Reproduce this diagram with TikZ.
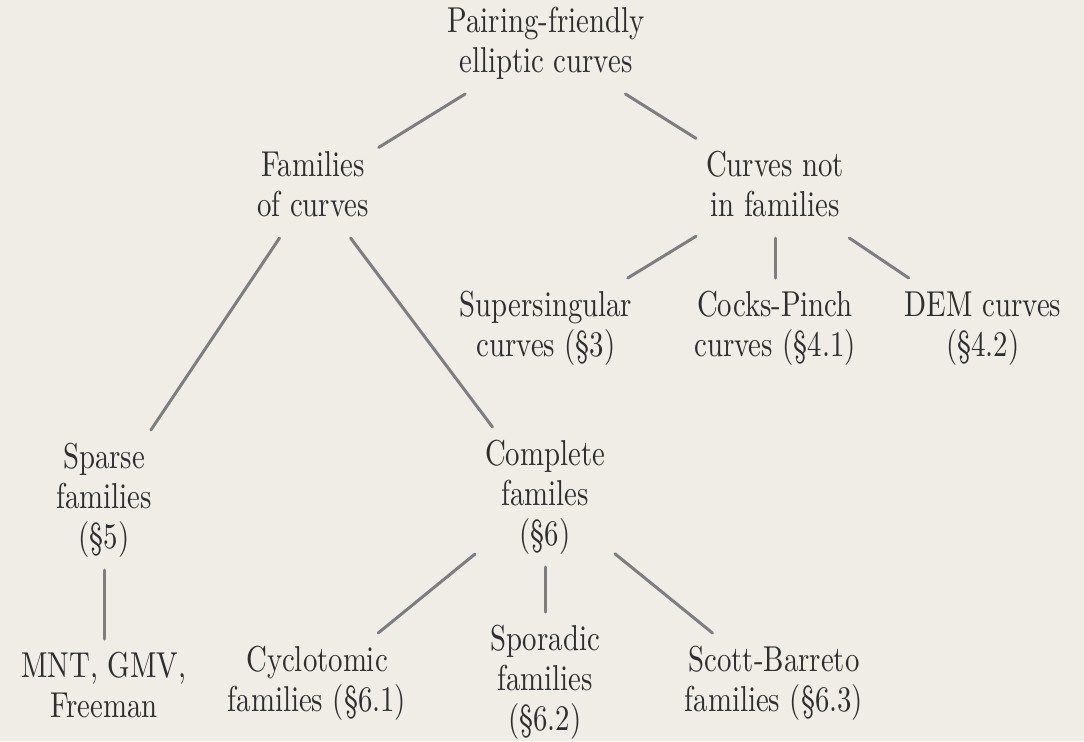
\documentclass[tikz,border=0pt]{standalone}
\usepackage{graphicx}
\definecolor{paper}{HTML}{EFEDE6}
\definecolor{ink}{HTML}{2E2E2E}
\definecolor{twig}{HTML}{7E7E7E}
\def\lbl#1{\scalebox{1.44}[1.8]{\begin{tabular}{@{}c@{}}#1\end{tabular}}}

\begin{document}
\begin{tikzpicture}[x=0.5pt, y=-0.5pt,
	leaf/.style={inner sep=0pt, outer sep=5pt, text=ink, font=\fontsize{10}{11.11}\selectfont},
	twig/.style={line width=1.5pt, draw=twig, line cap=round}]
			%%%%% START %%%%%
			
			\fill[paper] (0, 0) rectangle (1084, 741);
			\useasboundingbox (0, 0) rectangle (1084, 741);
			
			\node[leaf] (pf) at (546, 44) {\lbl{Pairing-friendly\\elliptic curves}};
			
			\node[leaf] (fc) at (313, 188) {\lbl{Families\\of curves}};
			\node[leaf] (nf) at (775, 188) {\lbl{Curves not\\in families}};
			
			\node[leaf] (ss) at (546, 328) {\lbl{Supersingular\\curves (\S3)}};
			\node[leaf] (cp) at (775, 328) {\lbl{Cocks-Pinch\\curves (\S4.1)}};
			\node[leaf] (dem) at (983, 328) {\lbl{DEM curves\\(\S4.2)}};
			
			\node[leaf] (sp) at (104, 500) {\lbl{Sparse\\families\\(\S5)}};
			\node[leaf] (cf) at (545, 497) {\lbl{Complete\\familes\\(\S6)}};
			
			\node[leaf] (mnt) at (104, 689) {\lbl{MNT, GMV,\\Freeman}};
			\node[leaf] (cy) at (317, 683) {\lbl{Cyclotomic\\families (\S6.1)}};
			\node[leaf] (spo) at (545, 682) {\lbl{Sporadic\\families\\(\S6.2)}};
			\node[leaf] (sb) at (774, 683) {\lbl{Scott-Barreto\\families (\S6.3)}};
			
			\draw[twig] (pf) -- (fc);
			\draw[twig] (pf) -- (nf);
			
			\draw[twig] (nf) -- (ss);
			\draw[twig] (nf) -- (cp);
			\draw[twig] (nf) -- (dem);
			
			\draw[twig] (fc) -- (sp);
			\draw[twig] (fc) -- (cf);
			
			\draw[twig] (sp) -- (mnt);
			
			\draw[twig] (cf) -- (cy);
			\draw[twig] (cf) -- (spo);
			\draw[twig] (cf) -- (sb);
			
			%%%%% END %%%%%
		\end{tikzpicture}
\end{document}
